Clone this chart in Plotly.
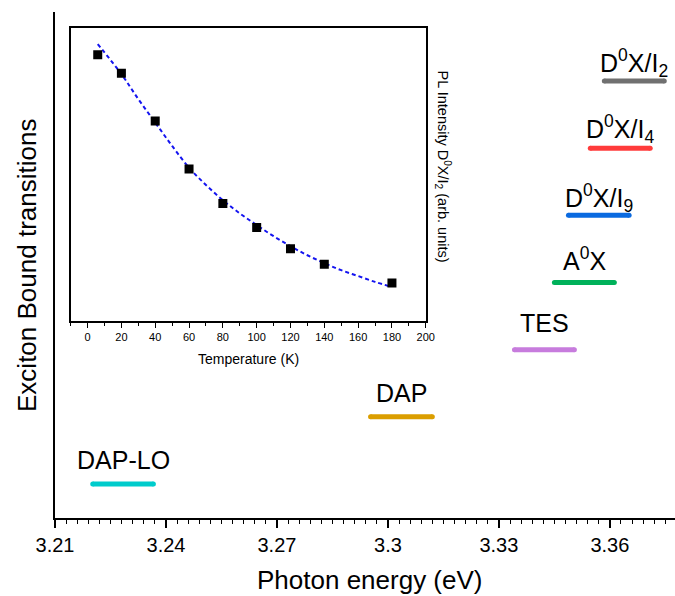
import plotly.graph_objects as go

# ---- Main chart data: exciton bound transitions ----
labels = ["DAP-LO", "DAP", "TES", "A<sup>0</sup>X",
          "D<sup>0</sup>X/I<sub>9</sub>", "D<sup>0</sup>X/I<sub>4</sub>",
          "D<sup>0</sup>X/I<sub>2</sub>"]
e_start = [3.2202, 3.2953, 3.3342, 3.3450, 3.3488, 3.3547, 3.3585]
e_end = [3.2366, 3.3120, 3.3504, 3.3612, 3.3652, 3.3709, 3.3747]
levels = [1, 2, 3, 4, 5, 6, 7]
x_ticks = [3.21, 3.24, 3.27, 3.30, 3.33, 3.36]
x_ticktext = ["3.21", "3.24", "3.27", "3.3", "3.33", "3.36"]

# ---- Inset data: PL intensity vs temperature ----
temp_k = [6, 20, 40, 60, 80, 100, 120, 140, 180]
pl_int = [0.909, 0.846, 0.683, 0.519, 0.402, 0.320, 0.247, 0.194, 0.130]
fit_t = [6, 20, 30, 40, 50, 60, 70, 80, 90, 100, 110, 120, 130, 140, 150, 160, 170, 178]
fit_y = [0.946, 0.843, 0.758, 0.678, 0.598, 0.524, 0.465, 0.413, 0.368, 0.328,
         0.290, 0.256, 0.225, 0.198, 0.174, 0.154, 0.134, 0.120]

# ---- styles ----
colors = ["#00CCCC", "#DB9E00", "#C77CDD", "#00B15A", "#0A6AE0", "#FF3B3B", "#707070"]
label_shift = [24, 24, 27, 24, 17, 19, 18]
FONT = "Arial, Liberation Sans, sans-serif"

fig = go.Figure()

for lab, s, e, lv, c in zip(labels, e_start, e_end, levels, colors):
    fig.add_trace(go.Scatter(
        x=[s, e], y=[lv, lv], mode="lines+markers",
        line=dict(color=c, width=5),
        marker=dict(color=c, size=5, line=dict(width=0)),
        showlegend=False, hoverinfo="skip", xaxis="x", yaxis="y"))

for lab, s, e, lv, sh in zip(labels, e_start, e_end, levels, label_shift):
    fig.add_annotation(x=(s + e) / 2, y=lv, xref="x", yref="y", text=lab,
                       showarrow=False, yshift=sh, yanchor="middle",
                       font=dict(family=FONT, size=25, color="black"))

# inset
fig.add_trace(go.Scatter(
    x=fit_t, y=fit_y, mode="lines", line=dict(color="#1414F0", width=2, dash="4px,3px", shape="spline"),
    showlegend=False, hoverinfo="skip", xaxis="x2", yaxis="y2"))
fig.add_trace(go.Scatter(
    x=temp_k, y=pl_int, mode="markers",
    marker=dict(symbol="square", color="black", size=9, line=dict(width=0)),
    showlegend=False, xaxis="x2", yaxis="y2"))

fig.update_layout(
    width=675, height=596,
    margin=dict(l=55, r=0, t=12, b=78, autoexpand=False),
    paper_bgcolor="white", plot_bgcolor="rgba(0,0,0,0)",
    font=dict(family=FONT, color="black"),
    xaxis=dict(
        range=[3.21, 3.3776], showgrid=False, zeroline=False, automargin=False,
        showline=True, linecolor="black", linewidth=2,
        tickmode="array", tickvals=x_ticks, ticktext=x_ticktext,
        ticks="outside", ticklen=8, tickwidth=1.5, tickcolor="black",
        tickfont=dict(size=20, family=FONT),
        minor=dict(dtick=0.003, tick0=3.21, ticks="outside", ticklen=4, tickwidth=1.2, tickcolor="black"),
    ),
    yaxis=dict(
        range=[0.494, 8.027], showgrid=False, zeroline=False, automargin=False,
        showline=True, linecolor="black", linewidth=2,
        showticklabels=False, ticks="",
    ),
    xaxis2=dict(
        domain=[0.0253, 0.598], anchor="y2", range=[-10, 200],
        showgrid=False, zeroline=False, automargin=False,
        showline=True, mirror=True, linecolor="black", linewidth=2,
        tickmode="linear", tick0=0, dtick=20,
        ticks="outside", ticklen=5, tickwidth=1.2, tickcolor="black",
        tickfont=dict(size=11, family=FONT),
        minor=dict(dtick=10, tick0=0, ticks="outside", ticklen=3, tickwidth=1, tickcolor="black"),
    ),
    yaxis2=dict(
        domain=[0.389, 0.968], anchor="x2", range=[0, 1],
        showgrid=False, zeroline=False, automargin=False,
        showline=True, mirror=True, linecolor="black", linewidth=2,
        showticklabels=False, ticks="",
    ),
)

# axis titles
fig.add_annotation(x=0.508, y=-0.1225, xref="paper", yref="paper",
                   text="Photon energy (eV)", showarrow=False,
                   xanchor="center", yanchor="middle",
                   font=dict(family=FONT, size=26, color="black"))
fig.add_annotation(x=-0.0452, y=0.5, xref="paper", yref="paper",
                   text="Exciton Bound transitions", showarrow=False, textangle=-90,
                   xanchor="center", yanchor="middle",
                   font=dict(family=FONT, size=26, color="black"))
fig.add_annotation(x=0.3121, y=0.3142, xref="paper", yref="paper",
                   text="Temperature (K)", showarrow=False,
                   xanchor="center", yanchor="middle",
                   font=dict(family=FONT, size=14, color="black"))
fig.add_annotation(
    x=0.6258, y=0.6947, xref="paper", yref="paper",
    text="PL Intensity D<sup>0</sup>X/I<sub>2</sub> (arb. units)",
    textangle=90, showarrow=False, xanchor="center", yanchor="middle",
    font=dict(family=FONT, size=14.5, color="black"))

fig.write_html("out.html")
